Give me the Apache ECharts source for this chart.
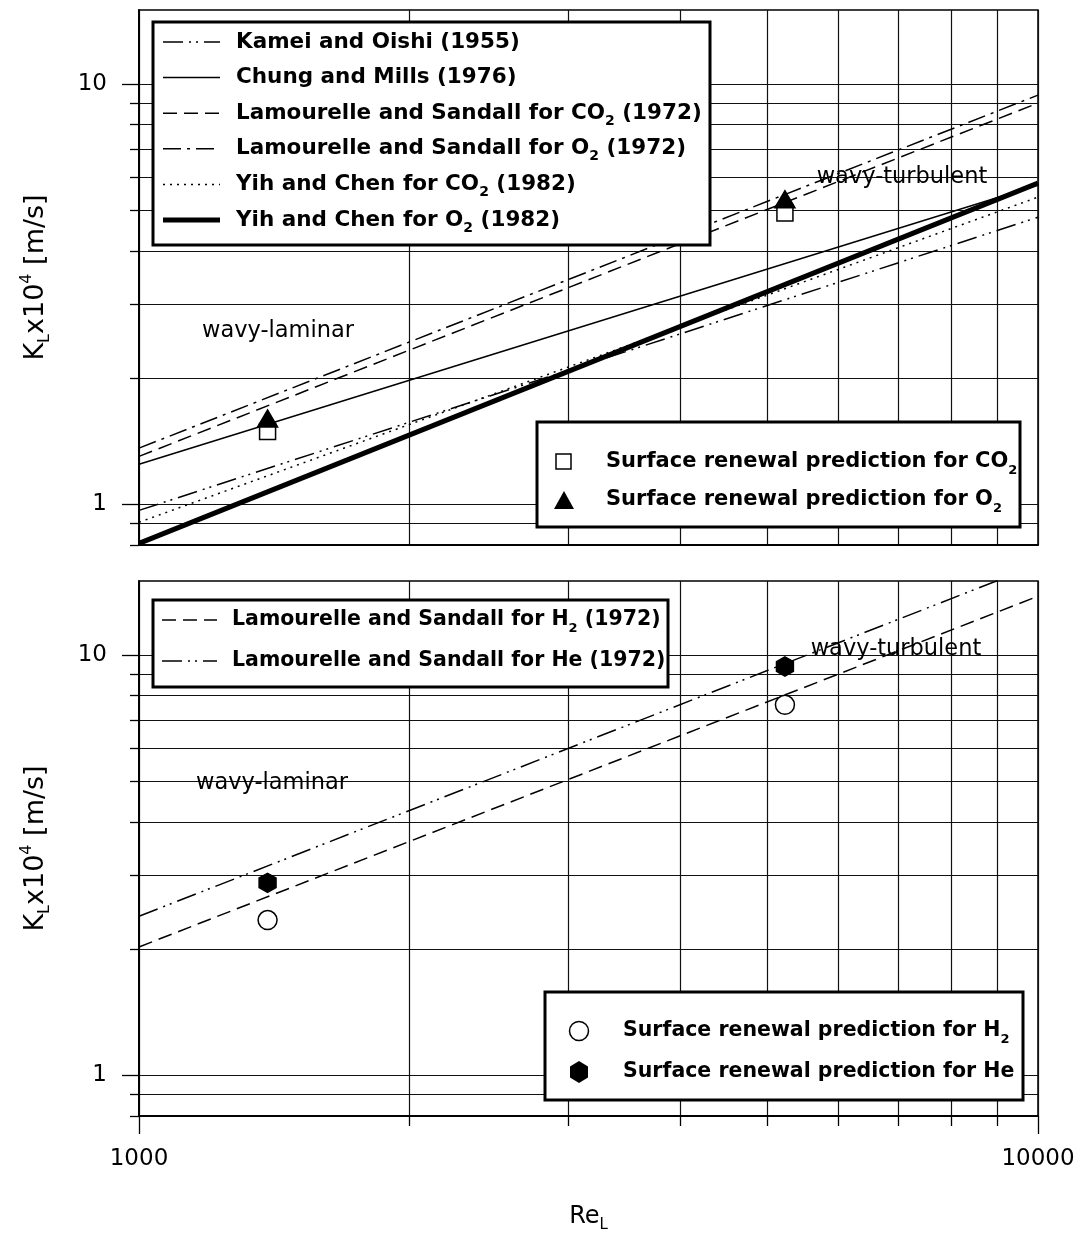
<!DOCTYPE html>
<html><head><meta charset="utf-8">
<script src="https://cdn.jsdelivr.net/npm/echarts@6/dist/echarts.min.js"></script>
<style>html,body{margin:0;padding:0;background:#fff}#c{width:1082px;height:1235px}</style>
</head><body><div id="c"></div>
<script>
// ---------- data ----------
const reLine = [1000, 10000];              // Re_L at the ends of each correlation line
const kameiOishi = [0.967, 4.82];          // K_L x10^4 [m/s]
const chungMills = [1.245, 5.75];
const lamourelleCO2 = [1.30, 9.01];
const lamourelleO2 = [1.36, 9.41];
const yihChenCO2 = [0.906, 5.38];
const yihChenO2 = [0.807, 5.81];
const lamourelleH2 = [2.02, 13.8];
const lamourelleHe = [2.39, 16.4];
const reSR = [1390, 5230];                 // Re_L of the surface renewal predictions
const srCO2 = [1.49, 4.93];
const srO2 = [1.60, 5.32];
const srH2 = [2.34, 7.61];
const srHe = [2.87, 9.39];
const xMajor = [1000, 10000];
const xMinor = [2000, 3000, 4000, 5000, 6000, 7000, 8000, 9000];
const yMajor = [1, 10];
const yMinor = [0.8, 0.9, 2, 3, 4, 5, 6, 7, 8, 9];
const yRange = [0.8, 15];

const pairs = (xs, ys) => xs.map((x, i) => [x, ys[i]]);
const FONT = 'DejaVu Sans';
const fmt = v => String(Math.round(v * 1000) / 1000);

const DASH = [14, 7];
const DASHDOT = [18, 6, 3, 6];
const DASHDOTDOT = [20, 6, 2, 5, 2, 6];
const DOT = [2, 5];

function xAx(gi, major, bottom) {
  return {
    type: 'log', logBase: 10, gridIndex: gi, min: reLine[0], max: reLine[1], position: 'bottom',
    axisLine: { show: true, onZero: false, lineStyle: { color: '#000', width: 1.5 } },
    axisTick: { show: bottom, customValues: major ? xMajor : xMinor, length: major ? 18 : 10,
      lineStyle: { color: '#000', width: 1.3 } },
    axisLabel: (major && bottom) ? { show: true, customValues: xMajor, margin: 32, fontSize: 23,
      fontFamily: FONT, color: '#000', formatter: fmt } : { show: false },
    splitLine: { show: true, lineStyle: { color: '#111', width: 1.2 } },
    name: (major && bottom) ? 'Re{sub|L}' : '',
    nameLocation: 'middle', nameGap: 85,
    nameTextStyle: { fontSize: 24, fontFamily: FONT, color: '#000', lineHeight: 32,
      rich: { sub: { fontSize: 15, fontFamily: FONT, verticalAlign: 'bottom', lineHeight: 32 } } }
  };
}
function yAx(gi, major) {
  return {
    type: 'log', logBase: 10, gridIndex: gi, min: yRange[0], max: yRange[1], position: 'left',
    axisLine: { show: true, onZero: false, lineStyle: { color: '#000', width: 1.5 } },
    axisTick: { show: true, customValues: major ? yMajor : yMinor, length: major ? 17 : 9,
      lineStyle: { color: '#000', width: 1.3 } },
    axisLabel: major ? { show: true, customValues: yMajor, margin: 32, fontSize: 23,
      fontFamily: FONT, color: '#000', formatter: fmt } : { show: false },
    splitLine: { show: true, lineStyle: { color: '#111', width: 1.2 } },
    name: major ? 'K{sub|L}x10{sup|4} [m/s]' : '',
    nameLocation: 'middle', nameRotate: 90, nameGap: 86,
    nameTextStyle: { fontSize: 27, fontFamily: FONT, color: '#000', lineHeight: 34,
      rich: {
        sub: { fontSize: 16, fontFamily: FONT, verticalAlign: 'bottom', lineHeight: 34 },
        sup: { fontSize: 16, fontFamily: FONT, verticalAlign: 'top', lineHeight: 34 }
      } }
  };
}

function lineSeries(name, ys, xi, yi, dash, width) {
  return {
    name, type: 'line', xAxisIndex: xi, yAxisIndex: yi, data: pairs(reLine, ys),
    symbol: 'none', clip: true, animation: false, z: 3,
    lineStyle: { color: '#000', width: width || 1.5, type: dash || 'solid' }
  };
}
const HEX = 'path://M0,-10 L8.66,-5 L8.66,5 L0,10 L-8.66,5 L-8.66,-5 Z';
function scatter(name, ys, xi, yi, symbol, size, fill, z) {
  return {
    name, type: 'scatter', xAxisIndex: xi, yAxisIndex: yi, data: pairs(reSR, ys),
    symbol, symbolSize: size, animation: false, z: z,
    itemStyle: { color: fill, borderColor: '#000', borderWidth: 1.5, opacity: 1 }
  };
}

// ---------- legend / annotation graphics ----------
function rich(fs) {
  return {
    b: { fontSize: fs, fontWeight: 'bold', fontFamily: FONT, lineHeight: 30, verticalAlign: 'middle' },
    s: { fontSize: Math.round(fs * 0.64), fontWeight: 'bold', fontFamily: FONT, lineHeight: 30, verticalAlign: 'bottom' }
  };
}
function gText(x, y, txt, fs) {
  return { type: 'text', x, y, z: 102,
    style: { text: txt, rich: rich(fs), fill: '#000', verticalAlign: 'middle', align: 'left',
      fontSize: fs, fontWeight: 'bold', fontFamily: FONT } };
}
function gBox(x, y, w, h) {
  return { type: 'rect', z: 100, shape: { x, y, width: w, height: h },
    style: { fill: '#fff', stroke: '#000', lineWidth: 3 } };
}
function gLine(x1, x2, y, dash, w) {
  return { type: 'line', z: 101, shape: { x1, y1: y, x2, y2: y },
    style: { stroke: '#000', lineWidth: w || 1.5, lineDash: dash || null } };
}
function gNote(x, y, txt) {
  return { type: 'text', x, y, z: 50,
    style: { text: txt, fill: '#000', fontSize: 22.5, fontFamily: FONT, align: 'center', verticalAlign: 'middle' } };
}

const topRows = [42, 77.6, 113.2, 148.8, 184.4, 220];
const T = 21.5, M = 21, B = 20.5;
const graphics = [
  gBox(153, 22, 557, 223),
  gLine(163, 220, topRows[0], DASHDOTDOT), gText(236, topRows[0], '{b|Kamei and Oishi (1955)}', T),
  gLine(163, 220, topRows[1], null), gText(236, topRows[1], '{b|Chung and Mills (1976)}', T),
  gLine(163, 220, topRows[2], DASH), gText(236, topRows[2], '{b|Lamourelle and Sandall for CO}{s|2}{b| (1972)}', T),
  gLine(163, 220, topRows[3], DASHDOT), gText(236, topRows[3], '{b|Lamourelle and Sandall for O}{s|2}{b| (1972)}', T),
  gLine(163, 220, topRows[4], DOT), gText(236, topRows[4], '{b|Yih and Chen for CO}{s|2}{b| (1982)}', T),
  gLine(163, 220, topRows[5], null, 5), gText(236, topRows[5], '{b|Yih and Chen for O}{s|2}{b| (1982)}', T),

  gBox(537, 422, 483, 105),
  { type: 'rect', z: 101, shape: { x: 556, y: 454, width: 15, height: 15 }, style: { fill: '#fff', stroke: '#000', lineWidth: 1.5 } },
  gText(606, 462, '{b|Surface renewal prediction for CO}{s|2}', M),
  { type: 'polygon', z: 101, shape: { points: [[564, 491], [574, 509], [554, 509]] }, style: { fill: '#000' } },
  gText(606, 500, '{b|Surface renewal prediction for O}{s|2}', M),

  gBox(153, 600, 515, 87),
  gLine(162, 217, 620, DASH), gText(232, 620, '{b|Lamourelle and Sandall for H}{s|2}{b| (1972)}', B),
  gLine(162, 217, 661, DASHDOTDOT), gText(232, 661, '{b|Lamourelle and Sandall for He (1972)}', B),

  gBox(545, 992, 478, 108),
  { type: 'circle', z: 101, shape: { cx: 579, cy: 1031, r: 9.5 }, style: { fill: '#fff', stroke: '#000', lineWidth: 1.5 } },
  gText(623, 1031, '{b|Surface renewal prediction for H}{s|2}', B),
  { type: 'polygon', z: 101, shape: { points: [[579, 1061], [588, 1066.5], [588, 1077.5], [579, 1083], [570, 1077.5], [570, 1066.5]] }, style: { fill: '#000' } },
  gText(623, 1072, '{b|Surface renewal prediction for He}', B),

  gNote(278, 331, 'wavy-laminar'),
  gNote(902, 177, 'wavy-turbulent'),
  gNote(272, 783, 'wavy-laminar'),
  gNote(896, 649, 'wavy-turbulent')
];

const chart = echarts.init(document.getElementById('c'), null, { renderer: 'canvas' });
chart.setOption({
  animation: false,
  backgroundColor: '#fff',
  grid: [
    { left: 139, top: 10, width: 899, height: 535, show: true, borderColor: '#000', borderWidth: 1.5, backgroundColor: 'transparent' },
    { left: 139, top: 581, width: 899, height: 535, show: true, borderColor: '#000', borderWidth: 1.5, backgroundColor: 'transparent' }
  ],
  xAxis: [xAx(0, true, false), xAx(0, false, false), xAx(1, true, true), xAx(1, false, true)],
  yAxis: [yAx(0, true), yAx(0, false), yAx(1, true), yAx(1, false)],
  series: [
    lineSeries('Kamei and Oishi (1955)', kameiOishi, 0, 0, DASHDOTDOT),
    lineSeries('Chung and Mills (1976)', chungMills, 0, 0, 'solid'),
    lineSeries('Lamourelle and Sandall for CO2 (1972)', lamourelleCO2, 0, 0, DASH),
    lineSeries('Lamourelle and Sandall for O2 (1972)', lamourelleO2, 0, 0, DASHDOT),
    lineSeries('Yih and Chen for CO2 (1982)', yihChenCO2, 0, 0, DOT),
    lineSeries('Yih and Chen for O2 (1982)', yihChenO2, 0, 0, 'solid', 5),
    scatter('Surface renewal prediction for CO2', srCO2, 0, 0, 'rect', 16, '#fff', 5),
    scatter('Surface renewal prediction for O2', srO2, 0, 0, 'triangle', [20, 17], '#000', 6),
    lineSeries('Lamourelle and Sandall for H2 (1972)', lamourelleH2, 2, 2, DASH),
    lineSeries('Lamourelle and Sandall for He (1972)', lamourelleHe, 2, 2, DASHDOTDOT),
    scatter('Surface renewal prediction for H2', srH2, 2, 2, 'circle', 19, '#fff', 5),
    scatter('Surface renewal prediction for He', srHe, 2, 2, HEX, [17, 19], '#000', 6)
  ],
  graphic: graphics
});
</script>
</body></html>
